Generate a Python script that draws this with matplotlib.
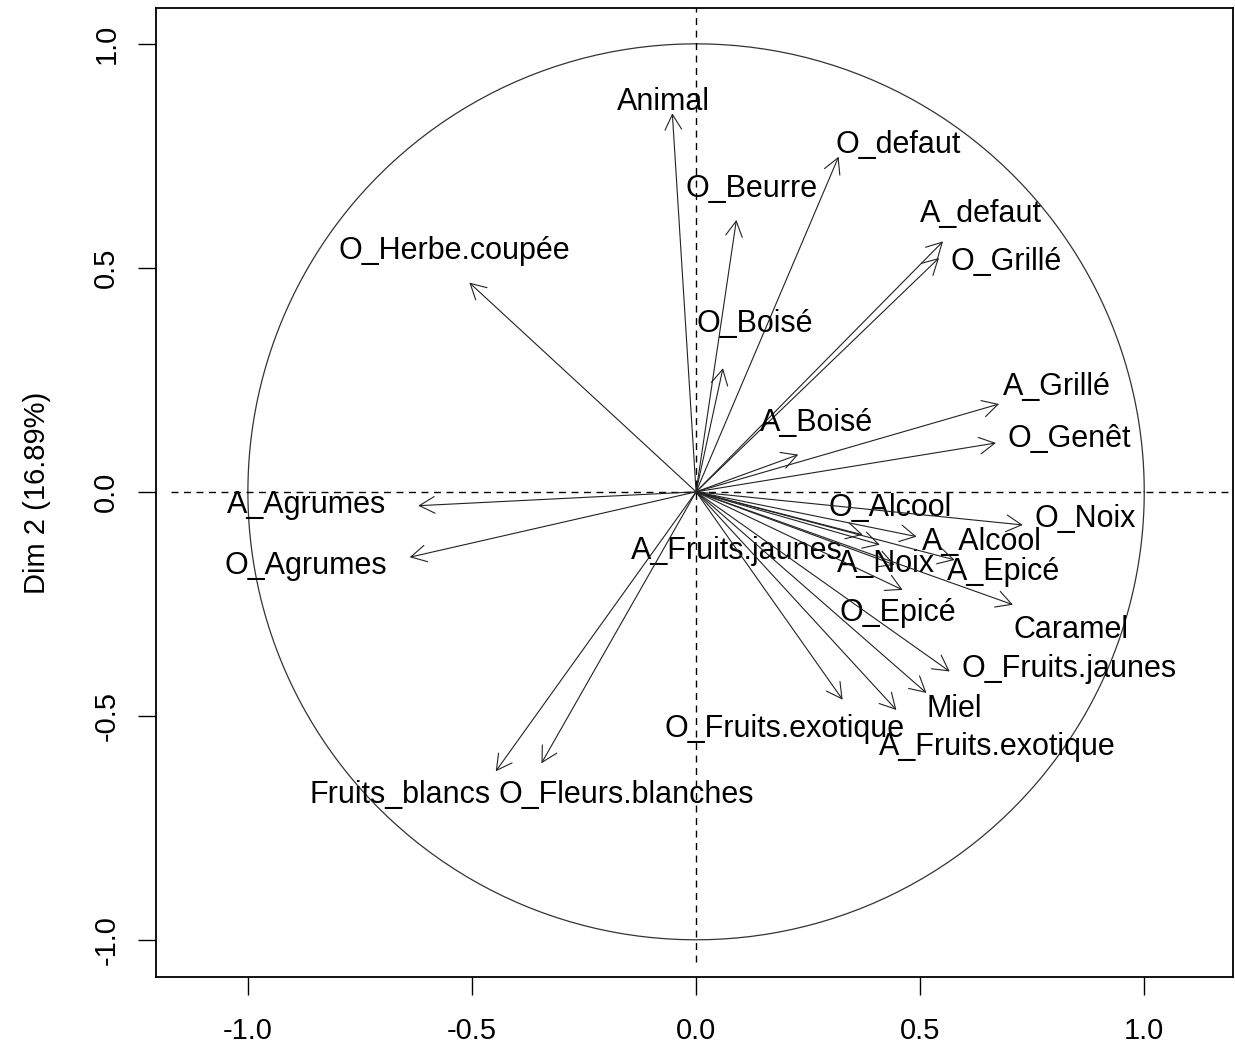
import numpy as np
import matplotlib.pyplot as plt

plt.rcParams['font.family'] = ['Liberation Sans', 'DejaVu Sans']

# variable names and their coordinates on Dim 1 / Dim 2
names = ["Animal", "O_defaut", "O_Beurre", "A_defaut", "O_Grillé", "O_Herbe.coupée",
         "O_Boisé", "A_Grillé", "A_Boisé", "O_Genêt", "A_Agrumes", "O_Alcool",
         "O_Noix", "A_Alcool", "A_Fruits.jaunes", "A_Noix", "A_Epicé", "O_Agrumes",
         "O_Epicé", "Caramel", "O_Fruits.jaunes", "Miel", "O_Fruits.exotique",
         "A_Fruits.exotique", "Fruits_blancs", "O_Fleurs.blanches"]
dim1 = [-0.053, 0.318, 0.090, 0.551, 0.542, -0.506,
        0.060, 0.676, 0.228, 0.669, -0.620, 0.372,
        0.729, 0.492, 0.410, 0.443, 0.577, -0.639,
        0.461, 0.707, 0.566, 0.514, 0.327,
        0.447, -0.447, -0.345]
dim2 = [0.845, 0.748, 0.607, 0.559, 0.522, 0.467,
        0.276, 0.196, 0.083, 0.109, -0.031, -0.096,
        -0.074, -0.100, -0.118, -0.163, -0.152, -0.146,
        -0.219, -0.252, -0.401, -0.449, -0.464,
        -0.487, -0.624, -0.606]
# label positions (after overlap avoidance)
lab_x = [-0.072, 0.452, 0.124, 0.635, 0.691, -0.540,
         0.131, 0.805, 0.269, 0.832, -0.869, 0.434,
         0.869, 0.637, 0.091, 0.423, 0.686, -0.871,
         0.450, 0.836, 0.833, 0.575, 0.198,
         0.673, -0.661, -0.155]
lab_y = [0.875, 0.779, 0.679, 0.625, 0.518, 0.542,
         0.379, 0.237, 0.158, 0.121, -0.025, -0.033,
         -0.056, -0.109, -0.127, -0.158, -0.176, -0.161,
         -0.266, -0.304, -0.391, -0.480, -0.525,
         -0.565, -0.672, -0.672]

ylab = "Dim 2 (16.89%)"
ticks = [-1.0, -0.5, 0.0, 0.5, 1.0]

fig = plt.figure(figsize=(12.35, 10.52), dpi=100)
ax = fig.add_axes([0.1267, 0.0713, 0.8713, 0.9211])

# correlation circle
t = np.linspace(0, 2 * np.pi, 400)
ax.plot(np.cos(t), np.sin(t), color='#333333', lw=0.9)

ax.plot([-1.172, 1.19], [0, 0], color='black', lw=1.0, ls=(0, (5, 4)))
ax.plot([0, 0], [-1.05, 1.08], color='black', lw=1.0, ls=(0, (5, 4)))

for i in range(len(names)):
    ax.annotate("", xy=(dim1[i], dim2[i]), xytext=(0, 0),
                arrowprops=dict(arrowstyle='->,head_length=0.55,head_width=0.3',
                                mutation_scale=20, lw=0.8, color='#222222',
                                shrinkA=0, shrinkB=0))
    ax.text(lab_x[i], lab_y[i] - 0.004, names[i], ha='center', va='center', fontsize=22)

ax.set_xlim(-1.204, 1.197)
ax.set_ylim(-1.083, 1.080)
ax.set_xticks(ticks)
ax.set_yticks(ticks)
ax.set_xticklabels(["%.1f" % v for v in ticks])
ax.set_yticklabels(["%.1f" % v for v in ticks], rotation=90, va='center')
ax.tick_params(axis='both', length=13, width=1, labelsize=21)
ax.tick_params(axis='x', pad=16)
ax.tick_params(axis='y', pad=13)
for s in ax.spines.values():
    s.set_linewidth(1.3)
ax.set_ylabel(ylab, fontsize=21, labelpad=30)

fig.savefig("out.png", dpi=100)
